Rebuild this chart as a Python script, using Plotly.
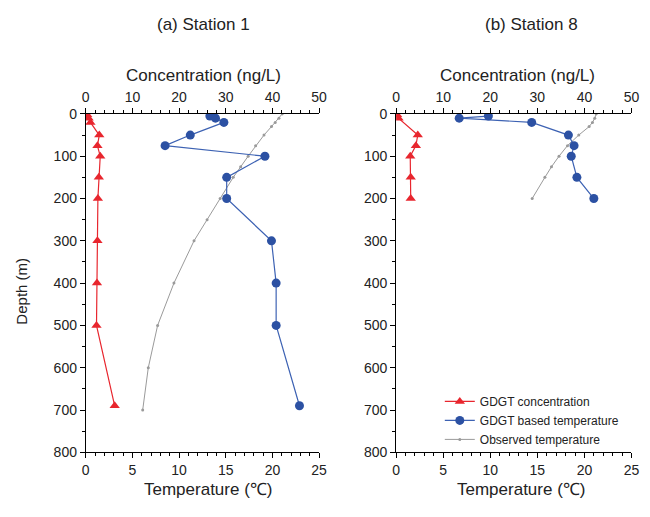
import plotly.graph_objects as go

# ---- Station 1 ----
s1_conc_depth = [2, 10, 20, 50, 75, 100, 150, 200, 300, 400, 500, 690]
s1_conc = [0.3, 0.6, 1.0, 2.9, 2.5, 3.1, 2.8, 2.6, 2.5, 2.4, 2.3, 6.2]

s1_gdgt_depth = [5, 10, 20, 50, 75, 100, 150, 200, 300, 400, 500, 690]
s1_gdgt_temp = [13.3, 13.9, 14.8, 11.2, 8.5, 19.2, 15.1, 15.1, 19.9, 20.4, 20.4, 22.9]

s1_obs_depth = [0, 10, 20, 30, 50, 75, 100, 125, 150, 200, 250, 300, 400, 500, 600, 700]
s1_obs_temp = [21.05, 20.7, 20.3, 19.9, 19.1, 18.2, 17.4, 16.6, 15.8, 14.4, 13.0, 11.6,
               9.45, 7.7, 6.7, 6.1]

# ---- Station 8 ----
s8_conc_depth = [2, 10, 50, 75, 100, 150, 200]
s8_conc = [0.2, 0.5, 4.6, 4.2, 3.0, 3.1, 3.1]

s8_gdgt_depth = [5, 10, 20, 50, 75, 100, 150, 200]
s8_gdgt_temp = [9.8, 6.7, 14.4, 18.3, 18.9, 18.6, 19.2, 21.0]

s8_obs_depth = [0, 10, 20, 30, 50, 75, 100, 125, 150, 200]
s8_obs_temp = [21.25, 21.1, 20.85, 20.5, 19.4, 18.2, 17.3, 16.5, 15.8, 14.45]

RED = "#e8262e"
BLUE_LINE = "#3d62b3"
BLUE_MARK = "#2c51a3"
GRAY = "#9a9a9a"
FONT = "Liberation Sans, Arial, sans-serif"
W, H = 650, 517


def px_x(x):
    return x / W


def px_y(y):
    return 1 - y / H


fig = go.Figure()

panels = [
    dict(bx="x", tx="x2", y="y",
         cd=s1_conc_depth, c=s1_conc, gd=s1_gdgt_depth, g=s1_gdgt_temp,
         od=s1_obs_depth, o=s1_obs_temp, legend=False),
    dict(bx="x3", tx="x4", y="y2",
         cd=s8_conc_depth, c=s8_conc, gd=s8_gdgt_depth, g=s8_gdgt_temp,
         od=s8_obs_depth, o=s8_obs_temp, legend=True),
]

for p in panels:
    fig.add_trace(go.Scatter(
        x=p["o"], y=p["od"], xaxis=p["bx"], yaxis=p["y"],
        mode="lines+markers", name="Observed temperature",
        line=dict(color=GRAY, width=1), marker=dict(color=GRAY, size=3),
        showlegend=p["legend"], legendrank=3))
    fig.add_trace(go.Scatter(
        x=p["g"], y=p["gd"], xaxis=p["bx"], yaxis=p["y"],
        mode="lines+markers", name="GDGT based temperature",
        line=dict(color=BLUE_LINE, width=1.2),
        marker=dict(color=BLUE_MARK, size=9, symbol="circle"),
        showlegend=p["legend"], legendrank=2))
    fig.add_trace(go.Scatter(
        x=p["c"], y=p["cd"], xaxis=p["tx"], yaxis=p["y"],
        mode="lines+markers", name="GDGT concentration",
        line=dict(color=RED, width=1.2),
        marker=dict(color=RED, size=9, symbol="triangle-up"),
        showlegend=p["legend"], legendrank=1))

tickfont = dict(family=FONT, size=14, color="#222")
common_axis = dict(showline=True, linecolor="black", linewidth=1, showgrid=False,
                   zeroline=False, ticks="outside", ticklen=5, tickcolor="black",
                   tickfont=tickfont)

ydom = [px_y(458.5), px_y(109.3)]
dom1 = [px_x(83.3), px_x(321)]
dom2 = [px_x(399.5), px_x(639.3)]

temp_axis = dict(range=[0, 25], dtick=5, tick0=0,
                 minor=dict(dtick=1, ticks="outside", ticklen=3, tickcolor="black"),
                 **common_axis)
conc_axis = dict(range=[0, 50], dtick=10, tick0=0,
                 minor=dict(dtick=2, ticks="outside", ticklen=3, tickcolor="black"),
                 **common_axis)
depth_axis = dict(range=[800, 0], dtick=100, tick0=0, domain=ydom,
                  minor=dict(dtick=50, ticks="outside", ticklen=3, tickcolor="black"),
                  **common_axis)

fig.update_layout(
    width=W, height=H,
    margin=dict(l=0, r=0, t=0, b=0),
    paper_bgcolor="white", plot_bgcolor="white",
    font=dict(family=FONT, color="#222"),
    xaxis=dict(domain=dom1, anchor="y", side="bottom", **temp_axis),
    xaxis2=dict(overlaying="x", anchor="y", side="top", **conc_axis),
    yaxis=dict(anchor="x", **depth_axis),
    xaxis3=dict(domain=dom2, anchor="y2", side="bottom", **temp_axis),
    xaxis4=dict(overlaying="x3", anchor="y2", side="top", **conc_axis),
    yaxis2=dict(anchor="x3", **depth_axis),
    legend=dict(x=px_x(444), y=px_y(391), xanchor="left", yanchor="top",
                bgcolor="rgba(0,0,0,0)", font=dict(family=FONT, size=12, color="#222"),
                tracegroupgap=0, itemwidth=30),
    showlegend=True,
)

texts = [
    ("(a) Station 1", 203, 17, 17, 0),
    ("(b) Station 8", 537, 17, 17, 0),
    ("Concentration (ng/L)", 203, 70, 17, 0),
    ("Concentration (ng/L)", 523, 70, 17, 0),
    ("Temperature (\u2103)", 208, 497, 17, 0),
    ("Temperature (\u2103)", 527, 497, 17, 0),
    ("Depth (m)", 18, 292, 15, -90),
]
for t, x, y, s, a in texts:
    fig.add_annotation(text=t, x=px_x(x), y=px_y(y), xref="paper", yref="paper",
                       xanchor="center", yanchor="middle", showarrow=False,
                       textangle=a, font=dict(family=FONT, size=s, color="#222"))

# keep the page edge flush with the figure
fig.write_html("out.html", post_script="document.body.style.margin='0';")
